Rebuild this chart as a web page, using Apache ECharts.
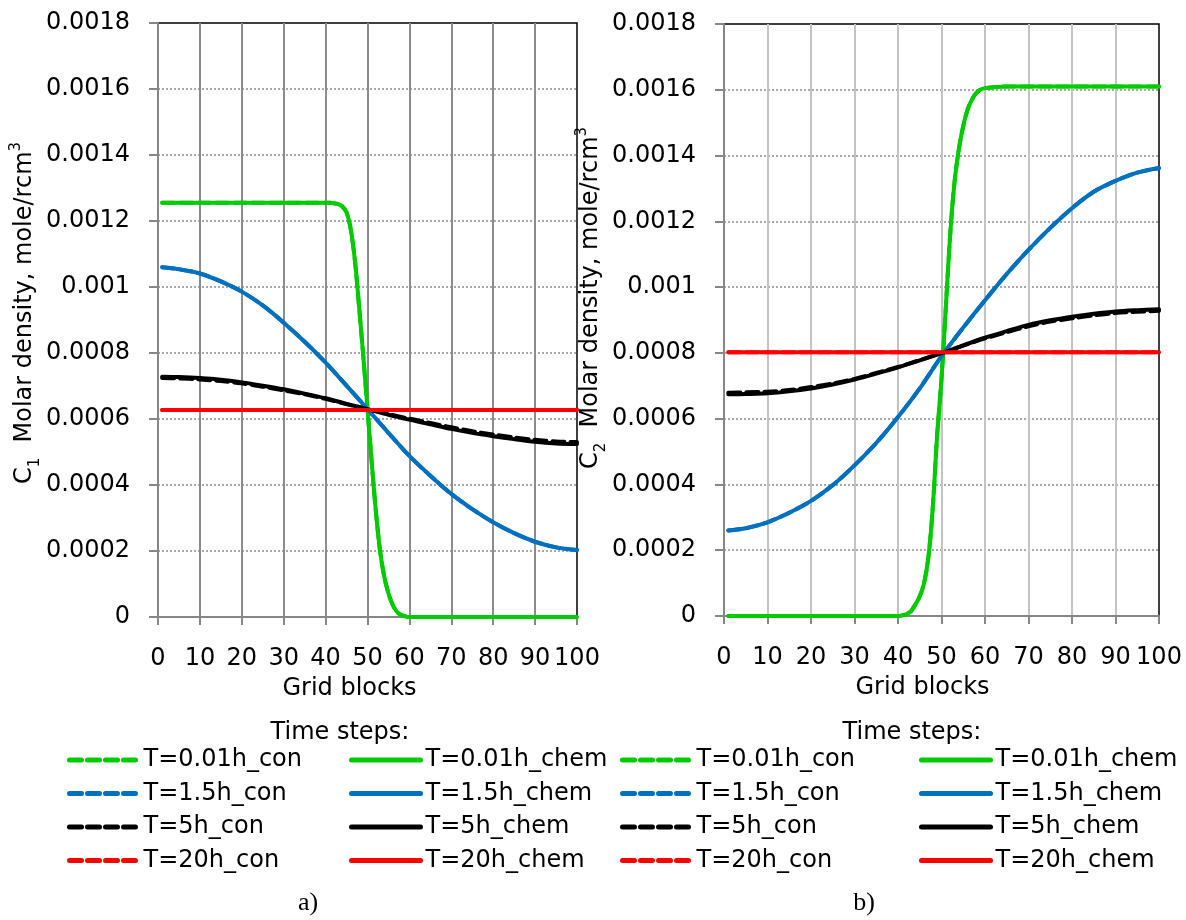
<!DOCTYPE html>
<html>
<head>
<meta charset="utf-8">
<script src="https://cdn.jsdelivr.net/npm/echarts@6/dist/echarts.min.js"></script>
<style>
  html, body { margin: 0; padding: 0; background: #fff; }
  #chart { width: 1186px; height: 920px; }
</style>
</head>
<body>
<div id="chart"></div>
<script>
// ---------- Data ----------
const seriesNames = ['T=0.01h_con', 'T=0.01h_chem', 'T=1.5h_con', 'T=1.5h_chem',
                     'T=5h_con', 'T=5h_chem', 'T=20h_con', 'T=20h_chem'];
const colors = { g: '#00CC00', b: '#0070C0', k: '#000000', r: '#FF0000' };

const xCoarse = [1, 5, 10, 15, 20, 25, 30, 35, 40, 45, 50, 55, 60, 65, 70, 75, 80, 85, 90, 95, 100];
const xFine = [1, 5, 10, 15, 20, 25, 30, 35, 40, 41, 42, 43, 44, 45, 46, 47, 48, 49, 50,
               51, 52, 53, 54, 55, 56, 57, 58, 59, 60, 62, 65, 70, 75, 80, 85, 90, 95, 100];

// Chart a) C1
const a_green_chem = [0.001255, 0.001255, 0.001255, 0.001255, 0.001255, 0.001255, 0.001255, 0.001255, 0.001255,
  0.001255, 0.001254, 0.001251, 0.001244, 0.001226, 0.001175, 0.00108, 0.00094, 0.00079, 0.00063,
  0.00047, 0.00032, 0.0002, 0.000122, 0.000072, 0.000037, 0.000016, 0.000006, 0.000002, 0, 0, 0, 0, 0, 0, 0, 0, 0, 0];
const a_green_con = [0.001255, 0.001255, 0.001255, 0.001255, 0.001255, 0.001255, 0.001255, 0.001255, 0.001255,
  0.001255, 0.001254, 0.001251, 0.001244, 0.001226, 0.001175, 0.00108, 0.00094, 0.00079, 0.00063,
  0.00047, 0.00032, 0.0002, 0.000122, 0.000072, 0.000037, 0.000016, 0.000006, 0.000002, 0, 0, 0, 0, 0, 0, 0, 0, 0, 0];
const a_blue_chem = [0.00106, 0.001054, 0.001041, 0.001017, 0.000986, 0.000944, 0.000892, 0.000834, 0.000771, 0.000701,
  0.00063, 0.000558, 0.000488, 0.000428, 0.000373, 0.000327, 0.000287, 0.000254, 0.000228, 0.000211, 0.000203];
const a_blue_con = [0.00106, 0.001054, 0.001041, 0.001017, 0.000986, 0.000944, 0.000892, 0.000834, 0.000771, 0.000701,
  0.00063, 0.000558, 0.000488, 0.000428, 0.000373, 0.000327, 0.000287, 0.000254, 0.000228, 0.000211, 0.000203];
const a_black_chem = [0.000728, 0.000727, 0.000724, 0.000719, 0.000711, 0.000701, 0.00069, 0.000677, 0.000663, 0.000646,
  0.00063, 0.000613, 0.000598, 0.000584, 0.00057, 0.000558, 0.000548, 0.000539, 0.000531, 0.000526, 0.000524];
const a_black_con = [0.000724, 0.000723, 0.00072, 0.000715, 0.000708, 0.000698, 0.000687, 0.000675, 0.000661, 0.000645,
  0.00063, 0.000615, 0.000601, 0.000588, 0.000575, 0.000563, 0.000553, 0.000544, 0.000537, 0.000532, 0.00053];
const a_red_chem = [0.000627, 0.000627, 0.000627, 0.000627, 0.000627, 0.000627, 0.000627, 0.000627, 0.000627, 0.000627,
  0.000627, 0.000627, 0.000627, 0.000627, 0.000627, 0.000627, 0.000627, 0.000627, 0.000627, 0.000627, 0.000627];
const a_red_con = [0.000627, 0.000627, 0.000627, 0.000627, 0.000627, 0.000627, 0.000627, 0.000627, 0.000627, 0.000627,
  0.000627, 0.000627, 0.000627, 0.000627, 0.000627, 0.000627, 0.000627, 0.000627, 0.000627, 0.000627, 0.000627];

// Chart b) C2
const b_green_chem = [0, 0, 0, 0, 0, 0, 0, 0, 0,
  0.000002, 0.000006, 0.000015, 0.000035, 0.00006, 0.0001, 0.00018, 0.00033, 0.00055, 0.00072,
  0.00094, 0.00116, 0.00132, 0.00142, 0.00149, 0.00154, 0.00157, 0.00159, 0.001601, 0.001605, 0.001608,
  0.00161, 0.00161, 0.00161, 0.00161, 0.00161, 0.00161, 0.00161, 0.00161];
const b_green_con = [0, 0, 0, 0, 0, 0, 0, 0, 0,
  0.000002, 0.000006, 0.000015, 0.000035, 0.00006, 0.0001, 0.00018, 0.00033, 0.00055, 0.00072,
  0.00094, 0.00116, 0.00132, 0.00142, 0.00149, 0.00154, 0.00157, 0.00159, 0.001601, 0.001605, 0.001608,
  0.00161, 0.00161, 0.00161, 0.00161, 0.00161, 0.00161, 0.00161, 0.00161];
const b_blue_chem = [0.00026, 0.000267, 0.000285, 0.000314, 0.00035, 0.000398, 0.000458, 0.000526, 0.000605, 0.000692,
  0.00079, 0.000877, 0.00096, 0.00104, 0.001113, 0.00118, 0.00124, 0.00129, 0.001323, 0.001348, 0.001362];
const b_blue_con = [0.00026, 0.000267, 0.000285, 0.000314, 0.00035, 0.000398, 0.000458, 0.000526, 0.000605, 0.000692,
  0.00079, 0.000877, 0.00096, 0.00104, 0.001113, 0.00118, 0.00124, 0.00129, 0.001323, 0.001348, 0.001362];
const b_black_chem = [0.000674, 0.000675, 0.000677, 0.000683, 0.000692, 0.000704, 0.000719, 0.000737, 0.000756, 0.000777,
  0.000799, 0.000823, 0.000846, 0.000866, 0.000885, 0.000899, 0.00091, 0.000919, 0.000926, 0.00093, 0.000933];
const b_black_con = [0.000679, 0.00068, 0.000682, 0.000687, 0.000696, 0.000707, 0.000721, 0.000739, 0.000757, 0.000778,
  0.000799, 0.000822, 0.000844, 0.000863, 0.000881, 0.000895, 0.000905, 0.000914, 0.000921, 0.000925, 0.000928];
const b_red_chem = [0.000802, 0.000802, 0.000802, 0.000802, 0.000802, 0.000802, 0.000802, 0.000802, 0.000802, 0.000802,
  0.000802, 0.000802, 0.000802, 0.000802, 0.000802, 0.000802, 0.000802, 0.000802, 0.000802, 0.000802, 0.000802];
const b_red_con = [0.000802, 0.000802, 0.000802, 0.000802, 0.000802, 0.000802, 0.000802, 0.000802, 0.000802, 0.000802,
  0.000802, 0.000802, 0.000802, 0.000802, 0.000802, 0.000802, 0.000802, 0.000802, 0.000802, 0.000802, 0.000802];

const yMin = 0, yMax = 0.0018, yStep = 0.0002;
const xMin = 0, xMax = 100, xStep = 10;
const xTitle = 'Grid blocks';
const yTitleA = ['C', '1', '  Molar density, mole/rcm', '3'];
const yTitleB = ['C', '2', '  Molar density, mole/rcm', '3'];
const legendTitle = 'Time steps:';
const panelLabels = ['a)', 'b)'];

// ---------- Build chart ----------
const FONT = 'DejaVu Sans';
const dash = [12, 6];

function pairs(xs, ys) { return xs.map((x, i) => [x, ys[i]]); }

function mkSeries(name, idx, xs, ys, color, dashed) {
  return {
    name: name, type: 'line', xAxisIndex: idx, yAxisIndex: idx,
    data: pairs(xs, ys), symbol: 'none', smooth: 0.3, animation: false,
    lineStyle: { color: color, width: 4, type: dashed ? dash : 'solid', cap: 'round', join: 'round' },
    itemStyle: { color: color }, z: dashed ? 2 : 3
  };
}

const series = [];
[[0, { g: [a_green_con, a_green_chem], b: [a_blue_con, a_blue_chem], k: [a_black_con, a_black_chem], r: [a_red_con, a_red_chem] }],
 [1, { g: [b_green_con, b_green_chem], b: [b_blue_con, b_blue_chem], k: [b_black_con, b_black_chem], r: [b_red_con, b_red_chem] }]]
.forEach(([idx, d]) => {
  const keys = ['g', 'b', 'k', 'r'];
  keys.forEach((k, j) => {
    const xs = k === 'g' ? xFine : xCoarse;
    series.push(mkSeries(seriesNames[2 * j], idx, xs, d[k][0], colors[k], true));
    series.push(mkSeries(seriesNames[2 * j + 1], idx, xs, d[k][1], colors[k], false));
  });
});

function yLabel(v) { return String(parseFloat(v.toFixed(4))); }

function xAxisCfg(idx, splitColor, padRight) {
  return {
    type: 'value', gridIndex: idx, min: xMin, max: xMax, interval: xStep,
    name: xTitle, nameLocation: 'middle', nameGap: 60,
    nameTextStyle: { fontFamily: FONT, fontSize: 24, color: '#000', padding: [0, padRight, 0, 0] },
    axisLine: { show: true, onZero: false, lineStyle: { color: '#878787', width: 2 } },
    axisTick: { show: true, length: 8, lineStyle: { color: '#878787', width: 2 } },
    axisLabel: { fontFamily: FONT, fontSize: 24, color: '#000', margin: 30 },
    splitLine: { show: true, showMaxLine: false, lineStyle: { color: splitColor, width: 2 } }
  };
}

function yAxisCfg(idx, parts, nameGap, padLeft) {
  return {
    type: 'value', gridIndex: idx, min: yMin, max: yMax, interval: yStep,
    name: '{n|' + parts[0] + '}{sub|' + parts[1] + '}{n|' + parts[2] + '}{sup|' + parts[3] + '}',
    nameLocation: 'middle', nameGap: nameGap, nameRotate: 90,
    nameTextStyle: {
      fontFamily: FONT, fontSize: 24, color: '#000', padding: [0, 0, 0, padLeft],
      rich: {
        n: { fontFamily: FONT, fontSize: 24, color: '#000', lineHeight: 34 },
        sub: { fontFamily: FONT, fontSize: 15, color: '#000', verticalAlign: 'bottom', lineHeight: 34 },
        sup: { fontFamily: FONT, fontSize: 15, color: '#000', verticalAlign: 'top', lineHeight: 34 }
      }
    },
    axisLine: { show: true, onZero: false, lineStyle: { color: '#878787', width: 2 } },
    axisTick: { show: true, length: 9, lineStyle: { color: '#878787', width: 2 } },
    axisLabel: { fontFamily: FONT, fontSize: 24, color: '#000', margin: 28, formatter: yLabel },
    splitLine: { show: true, showMaxLine: false, lineStyle: { color: '#8c8c8c', width: 1.5, type: [2, 2] } }
  };
}

function legendCfg(left, names) {
  return {
    orient: 'vertical', left: left, top: 748, padding: 0,
    itemWidth: 69, itemHeight: 14, itemGap: 9.5,
    data: names,
    textStyle: { fontFamily: FONT, fontSize: 24, color: '#000' },
    lineStyle: { width: 5 },
    itemStyle: { color: 'rgba(0,0,0,0)', borderColor: 'rgba(0,0,0,0)', borderWidth: 0 }
  };
}

const conNames = seriesNames.filter((n, i) => i % 2 === 0);
const chemNames = seriesNames.filter((n, i) => i % 2 === 1);

const option = {
  backgroundColor: '#fff',
  animation: false,
  title: [
    { text: legendTitle, left: 340, top: 721, textAlign: 'center', padding: 0,
      textStyle: { fontFamily: FONT, fontSize: 24, fontWeight: 'normal', color: '#000' } },
    { text: legendTitle, left: 912, top: 721, textAlign: 'center', padding: 0,
      textStyle: { fontFamily: FONT, fontSize: 24, fontWeight: 'normal', color: '#000' } },
    { text: panelLabels[0], left: 308, top: 890, textAlign: 'center', padding: 0,
      textStyle: { fontFamily: 'Liberation Serif', fontSize: 26, fontWeight: 'normal', color: '#000' } },
    { text: panelLabels[1], left: 864, top: 890, textAlign: 'center', padding: 0,
      textStyle: { fontFamily: 'Liberation Serif', fontSize: 26, fontWeight: 'normal', color: '#000' } }
  ],
  grid: [
    { left: 158, top: 23, width: 419, height: 594, show: true, borderColor: '#000', borderWidth: 1.5, backgroundColor: 'transparent' },
    { left: 724, top: 24, width: 435, height: 592, show: true, borderColor: '#000', borderWidth: 1.5, backgroundColor: 'transparent' }
  ],
  xAxis: [xAxisCfg(0, '#8c8c8c', 36), xAxisCfg(1, '#c3c3c3', 38)],
  yAxis: [yAxisCfg(0, yTitleA, 112, 14), yAxisCfg(1, yTitleB, 104, 44)],
  legend: [legendCfg(67, conNames), legendCfg(349, chemNames), legendCfg(620, conNames), legendCfg(919, chemNames)],
  series: series
};

const chart = echarts.init(document.getElementById('chart'), null, { renderer: 'canvas' });
chart.setOption(option);
</script>
</body>
</html>
